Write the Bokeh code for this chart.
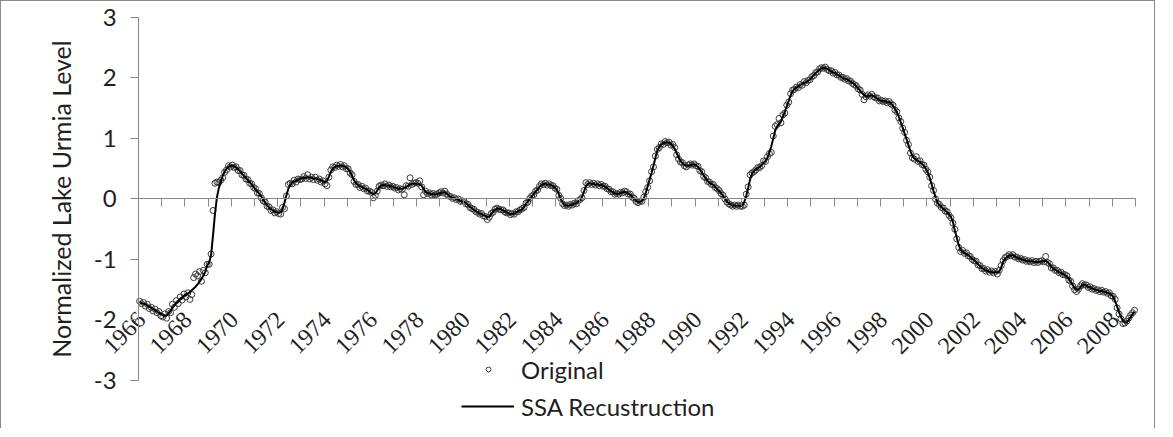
from math import pi
from bokeh.plotting import figure
from bokeh.models import Range1d, FixedTicker, Legend, LegendItem, Label
from bokeh.embed import file_html
from bokeh.resources import INLINE

start_year = 1966
years = list(range(1966, 2010))
label_years = [y for y in years if y % 2 == 0 and y < 2009]
label_texts = [str(y) for y in label_years]
y_ticks = [-3, -2, -1, 0, 1, 2, 3]
y_tick_labels = {v: str(v) for v in y_ticks}

# Monthly normalized lake level, Jan 1966 .. Dec 2008 (one row per year)
original = [
    -1.69, -1.73, -1.71, -1.77, -1.74, -1.81, -1.79, -1.85, -1.82, -1.88, -1.86, -1.93,
    -1.95, -1.90, -1.97, -1.86, -1.88, -1.74, -1.79, -1.68, -1.73, -1.62, -1.67, -1.57,
    -1.62, -1.55, -1.66, -1.58, -1.30, -1.24, -1.27, -1.20, -1.36, -1.18, -1.22, -1.08,
    -1.08, -0.91, -0.19, 0.26, 0.28, 0.27, 0.31, 0.35, 0.44, 0.48, 0.55, 0.53,
    0.56, 0.52, 0.53, 0.47, 0.47, 0.40, 0.39, 0.33, 0.32, 0.26, 0.25, 0.19,
    0.17, 0.10, 0.09, 0.02, -0.03, -0.05, -0.12, -0.13, -0.19, -0.18, -0.23, -0.21,
    -0.24, -0.25, -0.14, -0.16, 0.05, 0.24, 0.26, 0.25, 0.31, 0.28, 0.33, 0.32,
    0.33, 0.37, 0.34, 0.40, 0.33, 0.36, 0.32, 0.36, 0.31, 0.33, 0.28, 0.30,
    0.25, 0.22, 0.36, 0.48, 0.53, 0.52, 0.56, 0.54, 0.57, 0.53, 0.55, 0.50,
    0.50, 0.43, 0.40, 0.29, 0.24, 0.24, 0.19, 0.21, 0.17, 0.18, 0.13, 0.13,
    0.11, 0.02, 0.06, 0.13, 0.21, 0.23, 0.22, 0.25, 0.21, 0.23, 0.20, 0.21,
    0.18, 0.19, 0.15, 0.17, 0.16, 0.07, 0.22, 0.21, 0.35, 0.24, 0.26, 0.27,
    0.26, 0.30, 0.20, 0.07, 0.13, 0.09, 0.10, 0.07, 0.09, 0.07, 0.08, 0.10,
    0.12, 0.10, 0.13, 0.08, 0.05, 0.04, 0.01, 0.02, -0.01, 0.00, -0.04, -0.03,
    -0.04, -0.08, -0.09, -0.14, -0.16, -0.17, -0.21, -0.22, -0.25, -0.24, -0.28, -0.29,
    -0.34, -0.30, -0.24, -0.22, -0.17, -0.15, -0.17, -0.18, -0.18, -0.21, -0.23, -0.23,
    -0.26, -0.24, -0.25, -0.21, -0.21, -0.18, -0.16, -0.14, -0.07, -0.05, 0.01, 0.05,
    0.07, 0.13, 0.15, 0.21, 0.25, 0.24, 0.26, 0.23, 0.25, 0.22, 0.22, 0.18,
    0.16, 0.06, 0.01, -0.08, -0.11, -0.10, -0.12, -0.09, -0.10, -0.07, -0.08, -0.03,
    -0.01, 0.02, 0.14, 0.27, 0.24, 0.27, 0.24, 0.26, 0.23, 0.25, 0.22, 0.24,
    0.21, 0.21, 0.17, 0.16, 0.12, 0.12, 0.08, 0.09, 0.08, 0.11, 0.10, 0.13,
    0.12, 0.08, 0.08, 0.03, 0.01, -0.04, -0.06, -0.04, -0.04, 0.03, 0.12, 0.19,
    0.30, 0.45, 0.53, 0.71, 0.82, 0.85, 0.91, 0.90, 0.95, 0.93, 0.94, 0.89,
    0.90, 0.85, 0.73, 0.66, 0.61, 0.60, 0.55, 0.53, 0.56, 0.58, 0.56, 0.58,
    0.55, 0.54, 0.47, 0.45, 0.37, 0.35, 0.29, 0.28, 0.24, 0.24, 0.19, 0.17,
    0.14, 0.09, 0.06, 0.00, -0.05, -0.08, -0.10, -0.12, -0.10, -0.12, -0.10, -0.12,
    -0.12, -0.10, 0.08, 0.20, 0.40, 0.43, 0.45, 0.48, 0.52, 0.52, 0.55, 0.63,
    0.62, 0.70, 0.75, 0.77, 1.04, 1.20, 1.23, 1.33, 1.26, 1.39, 1.42, 1.55,
    1.60, 1.74, 1.80, 1.81, 1.85, 1.84, 1.89, 1.88, 1.94, 1.92, 1.96, 1.97,
    2.02, 2.04, 2.09, 2.10, 2.15, 2.17, 2.16, 2.18, 2.14, 2.12, 2.12, 2.08,
    2.09, 2.05, 2.05, 2.01, 2.01, 1.98, 1.99, 1.95, 1.95, 1.91, 1.89, 1.87,
    1.82, 1.80, 1.73, 1.64, 1.69, 1.72, 1.70, 1.73, 1.69, 1.67, 1.67, 1.62,
    1.63, 1.61, 1.62, 1.59, 1.61, 1.57, 1.55, 1.47, 1.44, 1.34, 1.28, 1.17,
    1.10, 0.97, 0.90, 0.76, 0.68, 0.66, 0.70, 0.62, 0.63, 0.57, 0.56, 0.49,
    0.45, 0.36, 0.22, 0.14, 0.00, -0.07, -0.09, -0.14, -0.15, -0.20, -0.21, -0.27,
    -0.31, -0.40, -0.50, -0.66, -0.80, -0.87, -0.85, -0.90, -0.89, -0.94, -0.95, -1.00,
    -1.02, -1.03, -1.09, -1.10, -1.15, -1.15, -1.19, -1.17, -1.21, -1.19, -1.22, -1.20,
    -1.24, -1.18, -1.10, -1.02, -0.97, -0.95, -0.92, -0.94, -0.92, -0.96, -0.96, -0.99,
    -0.98, -1.01, -1.00, -1.03, -1.02, -1.04, -1.02, -1.05, -1.03, -1.05, -1.03, -1.02,
    -1.04, -0.95, -1.05, -1.07, -1.14, -1.14, -1.18, -1.18, -1.22, -1.21, -1.25, -1.25,
    -1.27, -1.34, -1.36, -1.44, -1.50, -1.53, -1.49, -1.44, -1.40, -1.42, -1.42, -1.46,
    -1.45, -1.49, -1.48, -1.51, -1.50, -1.53, -1.51, -1.54, -1.53, -1.56, -1.55, -1.60,
    -1.61, -1.66, -1.80, -1.90, -1.98, -2.06, -2.05, -2.02, -1.97, -1.92, -1.88, -1.84,
]

ssa = [
    -1.70, -1.72, -1.73, -1.74, -1.76, -1.78, -1.80, -1.82, -1.84, -1.86, -1.88, -1.90,
    -1.92, -1.93, -1.92, -1.89, -1.85, -1.80, -1.76, -1.72, -1.69, -1.66, -1.63, -1.60,
    -1.58, -1.56, -1.54, -1.51, -1.48, -1.45, -1.41, -1.37, -1.32, -1.27, -1.20, -1.10,
    -1.05, -0.93, -0.60, -0.25, 0.02, 0.18, 0.28, 0.38, 0.45, 0.50, 0.53, 0.55,
    0.55, 0.54, 0.52, 0.49, 0.46, 0.42, 0.38, 0.35, 0.31, 0.28, 0.24, 0.20,
    0.16, 0.12, 0.08, 0.04, -0.01, -0.06, -0.10, -0.14, -0.17, -0.19, -0.21, -0.22,
    -0.23, -0.22, -0.17, -0.06, 0.06, 0.17, 0.23, 0.27, 0.29, 0.30, 0.32, 0.33,
    0.34, 0.35, 0.35, 0.36, 0.35, 0.35, 0.34, 0.34, 0.33, 0.32, 0.31, 0.29,
    0.28, 0.30, 0.37, 0.45, 0.50, 0.53, 0.54, 0.55, 0.55, 0.55, 0.54, 0.52,
    0.49, 0.45, 0.38, 0.31, 0.26, 0.23, 0.21, 0.20, 0.18, 0.17, 0.15, 0.12,
    0.10, 0.08, 0.09, 0.14, 0.19, 0.22, 0.23, 0.23, 0.22, 0.22, 0.21, 0.20,
    0.19, 0.18, 0.17, 0.17, 0.17, 0.18, 0.20, 0.22, 0.24, 0.25, 0.25, 0.25,
    0.25, 0.24, 0.22, 0.17, 0.12, 0.10, 0.09, 0.08, 0.08, 0.08, 0.08, 0.09,
    0.10, 0.11, 0.11, 0.09, 0.06, 0.03, 0.02, 0.01, 0.00, -0.01, -0.03, -0.04,
    -0.05, -0.07, -0.10, -0.13, -0.15, -0.18, -0.20, -0.22, -0.24, -0.25, -0.27, -0.28,
    -0.30, -0.29, -0.25, -0.21, -0.18, -0.16, -0.16, -0.17, -0.19, -0.20, -0.22, -0.24,
    -0.25, -0.25, -0.24, -0.22, -0.20, -0.19, -0.17, -0.13, -0.08, -0.04, 0.00, 0.04,
    0.08, 0.12, 0.16, 0.20, 0.23, 0.25, 0.25, 0.24, 0.24, 0.23, 0.21, 0.19,
    0.15, 0.08, 0.00, -0.06, -0.10, -0.11, -0.11, -0.10, -0.09, -0.08, -0.07, -0.04,
    -0.02, 0.03, 0.12, 0.21, 0.25, 0.26, 0.25, 0.25, 0.24, 0.24, 0.23, 0.23,
    0.22, 0.20, 0.18, 0.15, 0.13, 0.11, 0.09, 0.08, 0.09, 0.10, 0.11, 0.12,
    0.11, 0.09, 0.07, 0.04, 0.00, -0.03, -0.05, -0.05, -0.03, 0.01, 0.10, 0.21,
    0.32, 0.43, 0.55, 0.68, 0.80, 0.86, 0.90, 0.92, 0.93, 0.94, 0.93, 0.91,
    0.88, 0.83, 0.76, 0.69, 0.63, 0.59, 0.56, 0.55, 0.55, 0.56, 0.57, 0.57,
    0.56, 0.53, 0.49, 0.44, 0.39, 0.34, 0.30, 0.27, 0.25, 0.23, 0.20, 0.16,
    0.13, 0.10, 0.05, 0.01, -0.04, -0.07, -0.09, -0.11, -0.11, -0.11, -0.11, -0.11,
    -0.11, -0.05, 0.05, 0.18, 0.32, 0.42, 0.46, 0.49, 0.51, 0.53, 0.56, 0.60,
    0.63, 0.68, 0.77, 0.87, 1.00, 1.13, 1.20, 1.24, 1.28, 1.36, 1.44, 1.53,
    1.62, 1.71, 1.78, 1.82, 1.84, 1.86, 1.88, 1.90, 1.92, 1.93, 1.95, 1.98,
    2.01, 2.05, 2.08, 2.11, 2.14, 2.16, 2.17, 2.16, 2.15, 2.13, 2.11, 2.09,
    2.08, 2.06, 2.04, 2.02, 2.00, 1.99, 1.98, 1.96, 1.94, 1.92, 1.90, 1.86,
    1.83, 1.79, 1.75, 1.72, 1.70, 1.70, 1.71, 1.71, 1.70, 1.68, 1.66, 1.63,
    1.62, 1.62, 1.61, 1.60, 1.60, 1.58, 1.54, 1.49, 1.43, 1.36, 1.27, 1.18,
    1.08, 0.99, 0.89, 0.79, 0.71, 0.67, 0.65, 0.63, 0.61, 0.58, 0.55, 0.50,
    0.44, 0.35, 0.24, 0.13, 0.03, -0.06, -0.10, -0.13, -0.16, -0.19, -0.22, -0.26,
    -0.30, -0.38, -0.52, -0.64, -0.76, -0.84, -0.87, -0.89, -0.91, -0.93, -0.96, -0.99,
    -1.01, -1.04, -1.08, -1.11, -1.14, -1.16, -1.18, -1.19, -1.20, -1.21, -1.21, -1.21,
    -1.21, -1.20, -1.13, -1.04, -0.99, -0.96, -0.94, -0.93, -0.93, -0.95, -0.97, -0.98,
    -0.99, -1.00, -1.01, -1.02, -1.03, -1.03, -1.03, -1.04, -1.04, -1.04, -1.04, -1.03,
    -1.03, -1.02, -1.04, -1.08, -1.12, -1.15, -1.17, -1.19, -1.21, -1.22, -1.24, -1.26,
    -1.28, -1.32, -1.37, -1.42, -1.47, -1.50, -1.50, -1.46, -1.42, -1.41, -1.43, -1.45,
    -1.46, -1.48, -1.49, -1.50, -1.51, -1.52, -1.52, -1.53, -1.54, -1.55, -1.56, -1.58,
    -1.62, -1.69, -1.78, -1.87, -1.95, -2.01, -2.04, -2.04, -2.00, -1.95, -1.90, -1.86,
]

months = [start_year + (i + 0.5) / 12 for i in range(len(original))]

FONT = "Lato"
TXT = "#1f1f1f"
AXC = "#868686"
FS = "24px"

# The plot frame fills the whole canvas; both axes are drawn at fixed data locations
p = figure(width=1155, height=428, output_backend="svg", toolbar_location=None,
           x_range=Range1d(1960.085, 2009.907), y_range=Range1d(-3.81, 3.264),
           min_border=0, min_border_left=0, min_border_right=0,
           min_border_top=0, min_border_bottom=0)
p.styles = {"border-left": "1px solid #8a8a8a", "border-top": "1px solid #8a8a8a",
            "border-right": "1px solid #8a8a8a"}
p.outline_line_color = None
p.xgrid.visible = False
p.ygrid.visible = False

sc = p.scatter(months, original, marker="circle", size=6, fill_alpha=0,
               line_color="#3a3a3a", line_width=1)
ln = p.line(months, ssa, line_color="black", line_width=2)

# y axis at the first year
ya = p.yaxis[0]
ya.fixed_location = years[0]
ya.bounds = (y_ticks[0], y_ticks[-1])
ya.ticker = FixedTicker(ticks=y_ticks)
ya.major_label_overrides = y_tick_labels
ya.axis_line_color = AXC
ya.major_tick_line_color = AXC
ya.major_tick_out = 8
ya.major_tick_in = 0
ya.minor_tick_line_color = None
ya.major_label_text_font = FONT
ya.major_label_text_font_size = FS
ya.major_label_text_color = TXT
ya.major_label_standoff = 14

p.add_layout(Label(x=59, x_units="screen", y=0, y_units="data", angle=pi / 2,
                   text="Normalized Lake Urmia Level", text_align="center",
                   text_baseline="middle", text_font=FONT, text_font_size="25px",
                   text_color=TXT))

# x axis crossing at zero (ticks only; labels drawn below)
xa = p.xaxis[0]
xa.fixed_location = 0
xa.bounds = (years[0], years[-1])
xa.ticker = FixedTicker(ticks=years)
xa.major_label_text_alpha = 0
xa.axis_line_color = AXC
xa.major_tick_line_color = AXC
xa.major_tick_out = 8
xa.major_tick_in = 0
xa.minor_tick_line_color = None

p.text(x=label_years, y=[0] * len(label_years), text=label_texts, angle=pi / 4,
       text_align="right", text_baseline="middle", x_offset=3, y_offset=117,
       text_font=FONT, text_font_size=FS, text_color=TXT)

leg1 = Legend(items=[LegendItem(label="Original", renderers=[sc])],
              location=(481, 45), glyph_width=12, glyph_height=30, label_height=30,
              padding=0, margin=0, label_standoff=27, spacing=0,
              border_line_color=None, background_fill_alpha=0,
              label_text_font=FONT, label_text_font_size=FS, label_text_color=TXT)
leg2 = Legend(items=[LegendItem(label="SSA Recustruction", renderers=[ln])],
              location=(460, 8), glyph_width=53, glyph_height=30, label_height=30,
              padding=0, margin=0, label_standoff=7, spacing=0,
              border_line_color=None, background_fill_alpha=0,
              label_text_font=FONT, label_text_font_size=FS, label_text_color=TXT)
p.add_layout(leg1)
p.add_layout(leg2)

open("out.html", "w").write(file_html(p, INLINE))
